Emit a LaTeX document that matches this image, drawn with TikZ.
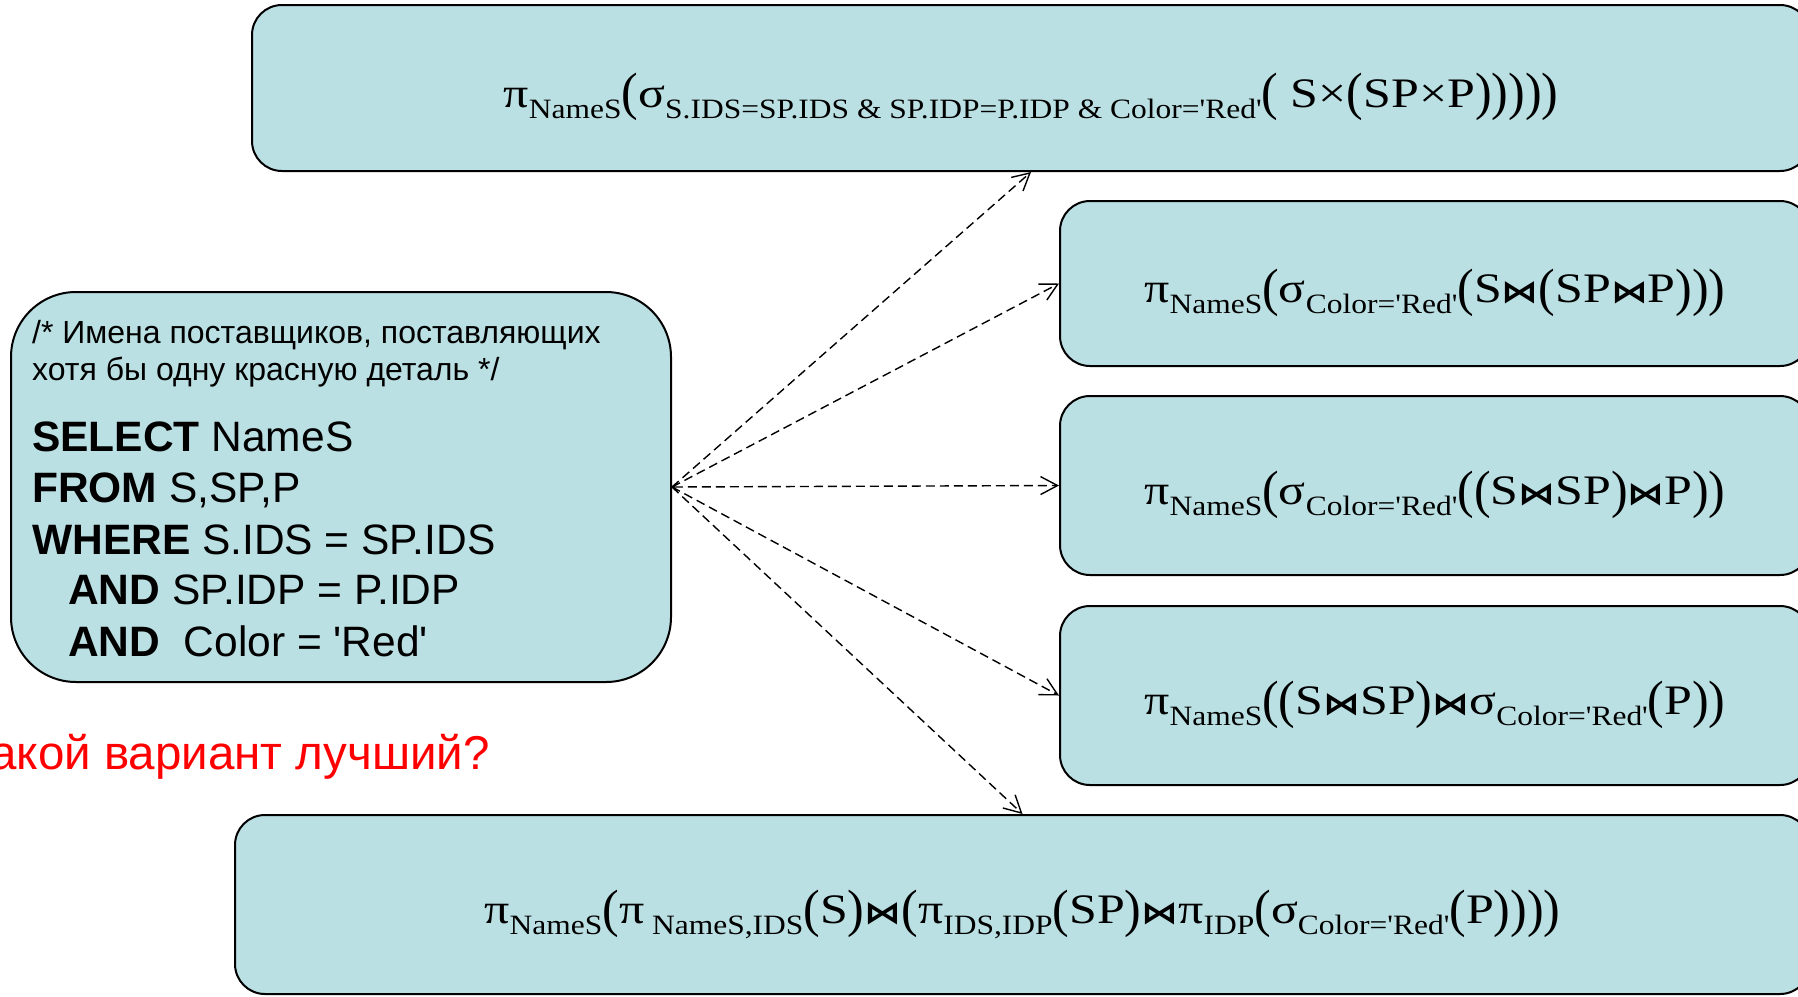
\documentclass[tikz,border=0pt]{standalone}
\usepackage{fontspec}
\usepackage{graphicx}
\usetikzlibrary{arrows.meta}
\newfontfamily\sqlfont{Liberation Sans}
\newfontfamily\frmfont{Liberation Serif}
\newfontfamily\opfont{DejaVu Sans}
\definecolor{boxfill}{RGB}{187,224,227}
% relational algebra expression, set wide
\newcommand\expr[1]{\scalebox{1.19}[1]{\frmfont\fontsize{42}{42}\selectfont #1}}
% subscript of an operator
\newcommand\fsub[1]{\raisebox{-11pt}{\scalebox{0.945}[1]{\fontsize{28}{28}\selectfont #1}}}
% tall parentheses
\newcommand\lp{\raisebox{-2.5pt}{\scalebox{1}[1.25]{(}}}
\newcommand\rp{\raisebox{-2.5pt}{\scalebox{1}[1.25]{)}}}
% natural join sign
\newcommand\jnop{{\opfont\bfseries\fontsize{31}{31}\selectfont ⋈}}
\newcommand\sq{\textquotesingle}
\begin{document}
\begin{tikzpicture}[x=1pt,y=-1pt,
  relbox/.style={draw=black, line width=2pt, fill=boxfill, rounded corners=30pt,
    inner sep=0pt, text height=48pt, text depth=10pt},
  flow/.style={draw=black, line width=1.4pt, dash pattern=on 9pt off 5pt,
    -{Straight Barb[length=17pt,width=18pt]}},
  sqlline/.style={anchor=base west, inner sep=0pt, font=\sqlfont\fontsize{42.5}{42.5}\selectfont},
  cmtline/.style={anchor=base west, inner sep=0pt, font=\sqlfont\fontsize{32}{32}\selectfont}
]
\useasboundingbox (0,0) rectangle (1798,996);
\clip (0,0) rectangle (1798,996);

% source query
\node[relbox, rounded corners=65pt, minimum width=660pt, minimum height=390pt,
  text height=, text depth=] (sql) at (341,487) {};
\node[cmtline] (c1) at (32,343) {/* Имена поставщиков, поставляющих};
\node[cmtline] (c2) at (32,380) {хотя бы одну красную деталь */};
\node[sqlline] (s1) at (32,451) {\textbf{SELECT} NameS};
\node[sqlline] (s2) at (32,502) {\textbf{FROM} S,SP,P};
\node[sqlline] (s3) at (32,554) {\textbf{WHERE} S.IDS = SP.IDS};
\node[sqlline] (s4) at (68,604) {\textbf{AND} SP.IDP = P.IDP};
\node[sqlline] (s5) at (68,656) {\textbf{AND}\ \ Color = \sq Red\sq};

% question
\node[anchor=base west, inner sep=0pt, text=red, font=\sqlfont\fontsize{47.5}{47.5}\selectfont]
  (question) at (-37.5,769) {Какой вариант лучший?};

% equivalent relational algebra expressions
\node[relbox, minimum width=1558pt, minimum height=166pt] (e1) at (1031,88)
  {\expr{π\fsub{NameS}\lp σ\fsub{S.IDS=SP.IDS \& SP.IDP=P.IDP \& Color=\sq Red\sq}\lp{} S×\lp SP×P\rp\rp\rp\rp\rp}};
\node[relbox, minimum width=750pt, minimum height=165pt] (e2) at (1435,283.5)
  {\expr{π\fsub{NameS}\lp σ\fsub{Color=\sq Red\sq}\lp S\jnop\lp SP\jnop P\rp\rp\rp}};
\node[relbox, minimum width=750pt, minimum height=179pt] (e3) at (1435,485.5)
  {\expr{π\fsub{NameS}\lp σ\fsub{Color=\sq Red\sq}\lp\lp S\jnop SP\rp\jnop P\rp\rp}};
\node[relbox, minimum width=750pt, minimum height=179pt] (e4) at (1435,695.5)
  {\expr{π\fsub{NameS}\lp\lp S\jnop SP\rp\jnop σ\fsub{Color=\sq Red\sq}\lp P\rp\rp}};
\node[relbox, minimum width=1575pt, minimum height=179pt] (e5) at (1022.5,904.5)
  {\expr{π\fsub{NameS}\lp π\fsub{ NameS,IDS}\lp S\rp\jnop\lp π\fsub{IDS,IDP}\lp SP\rp\jnop π\fsub{IDP}\lp σ\fsub{Color=\sq Red\sq}\lp P\rp\rp\rp\rp}};

% rewriting arrows
\draw[flow] (sql.east) -- (e1.south);
\draw[flow] (sql.east) -- (e2.west);
\draw[flow, {Straight Barb[length=4pt,width=7pt]}-{Straight Barb[length=17pt,width=18pt]}] (sql.east) -- (e3.west);
\draw[flow] (sql.east) -- (e4.west);
\draw[flow] (sql.east) -- (e5.north);
\end{tikzpicture}
\end{document}
